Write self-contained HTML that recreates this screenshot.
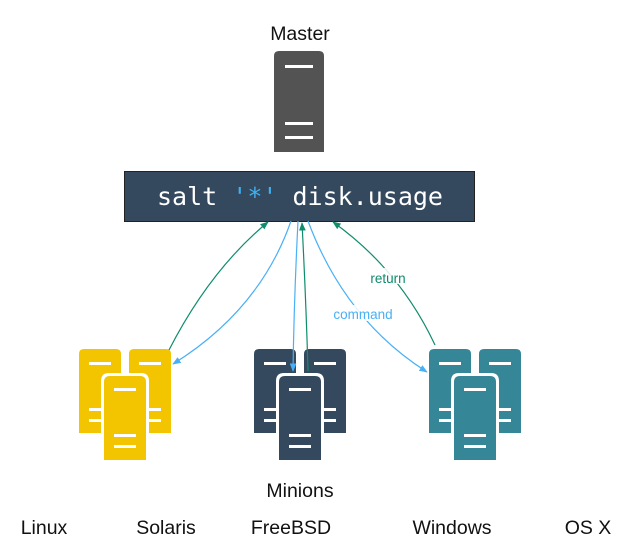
<!DOCTYPE html>
<html><head><style>html,body{margin:0;padding:0;background:#fff;}svg{display:block}</style></head><body>
<svg width="630" height="558" viewBox="0 0 630 558" xmlns="http://www.w3.org/2000/svg">
<defs>
<g id="srvback">
<path d="M0 5 Q0 0 5 0 H37 Q42 0 42 5 V84 H0 Z"/>
<rect x="10" y="13" width="22" height="3" fill="#fff"/>
<rect x="10" y="59" width="22" height="3" fill="#fff"/>
<rect x="10" y="70" width="22" height="3" fill="#fff"/>
</g>
<g id="srvfront">
<path d="M-3 84 V5 Q-3 -3 5 -3 H37 Q45 -3 45 5 V84 Z" fill="#fff"/>
<path d="M0 84 V6 Q0 0 6 0 H36 Q42 0 42 6 V84 Z"/>
<rect x="10" y="12" width="22" height="3" fill="#fff"/>
<rect x="10" y="58" width="22" height="3" fill="#fff"/>
<rect x="10" y="69" width="22" height="3" fill="#fff"/>
</g>
<marker id="ab" viewBox="0 0 10 10" refX="9" refY="5" markerWidth="7" markerHeight="7" orient="auto"><path d="M0 1 L10 5 L0 9 Z" fill="#4ab0f5"/></marker>
<marker id="ag" viewBox="0 0 10 10" refX="9" refY="5" markerWidth="7" markerHeight="7" orient="auto"><path d="M0 1 L10 5 L0 9 Z" fill="#0e8c6c"/></marker>
</defs>
<g font-family="Liberation Sans, sans-serif" font-size="19.5" fill="#111" text-anchor="middle">
<text x="300" y="40">Master</text>
<text x="300" y="497">Minions</text>
<text x="44" y="534">Linux</text>
<text x="166" y="534">Solaris</text>
<text x="291" y="534">FreeBSD</text>
<text x="452" y="534">Windows</text>
<text x="588" y="534">OS X</text>
</g>
<path d="M274 56 Q274 51 279 51 H319 Q324 51 324 56 V152 H274 Z" fill="#535353"/>
<rect x="285" y="65" width="28" height="3" fill="#fff"/>
<rect x="285" y="122" width="28" height="3" fill="#fff"/>
<rect x="285" y="136" width="28" height="3" fill="#fff"/>
<rect x="124.5" y="171.5" width="350" height="50" fill="#34495e" stroke="#222" stroke-width="1"/>
<text x="300" y="205" text-anchor="middle" font-family="DejaVu Sans Mono, Liberation Mono, monospace" font-size="25" fill="#fff">salt <tspan fill="#3fb0f0">'*'</tspan> disk.usage</text>
<g fill="#f2c500"><use href="#srvback" x="79" y="349"/><use href="#srvback" x="129" y="349"/><use href="#srvfront" x="104" y="376"/></g>
<g fill="#34495e"><use href="#srvback" x="254" y="349"/><use href="#srvback" x="304" y="349"/><use href="#srvfront" x="279" y="376"/></g>
<g fill="#358797"><use href="#srvback" x="429" y="349"/><use href="#srvback" x="479" y="349"/><use href="#srvfront" x="454" y="376"/></g>
<g fill="none" stroke-width="1.2">
<path d="M169 350 Q210 270 268 222" stroke="#0e8c6c" marker-end="url(#ag)"/>
<path d="M291 221 Q260 310 173 364" stroke="#4ab0f5" marker-end="url(#ab)"/>
<path d="M298 221 Q294 300 293 371" stroke="#4ab0f5" marker-end="url(#ab)"/>
<path d="M308 371 Q306 300 302 223" stroke="#0e8c6c" marker-end="url(#ag)"/>
<path d="M308 221 Q345 320 427 372" stroke="#4ab0f5" marker-end="url(#ab)"/>
<path d="M435 345 Q400 270 333 222" stroke="#0e8c6c" marker-end="url(#ag)"/>
</g>
<rect x="366" y="268" width="46" height="16" fill="#fff" opacity="0.85"/>
<rect x="332" y="305" width="62" height="16" fill="#fff" opacity="0.85"/>
<g font-family="Liberation Sans, sans-serif" font-size="13.5" text-anchor="middle">
<text x="388" y="283" fill="#0e8c6c">return</text>
<text x="363" y="319" fill="#4ab0f5">command</text>
</g>
</svg>
</body></html>
